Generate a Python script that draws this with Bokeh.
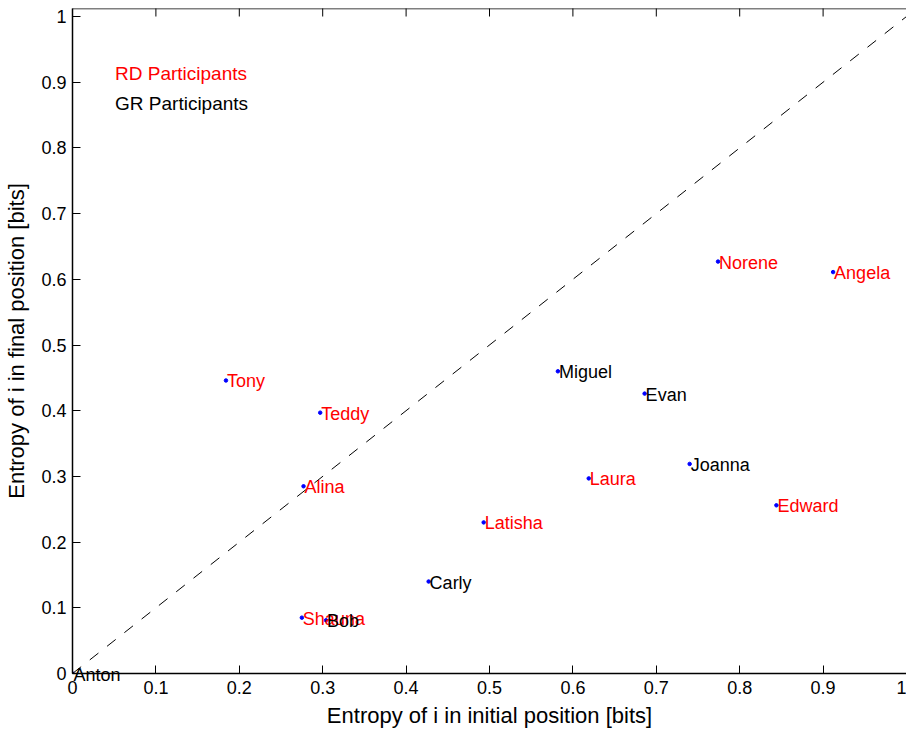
import math
from bokeh.plotting import figure
from bokeh.models import ColumnDataSource, Label, Slope, FixedTicker, Range1d, Span
from bokeh.core.properties import value
from bokeh.embed import file_html
from bokeh.resources import INLINE

names = ["Anton", "Tony", "Teddy", "Alina", "Shauna", "Bob", "Carly", "Latisha",
         "Laura", "Miguel", "Evan", "Joanna", "Edward", "Norene", "Angela"]
x_initial = [0.0, 0.184, 0.297, 0.277, 0.275, 0.304, 0.427, 0.493,
             0.619, 0.582, 0.686, 0.740, 0.844, 0.774, 0.912]
y_final = [0.0, 0.446, 0.397, 0.285, 0.085, 0.081, 0.140, 0.230,
           0.297, 0.460, 0.426, 0.319, 0.256, 0.627, 0.611]
group = ["GR", "RD", "RD", "RD", "RD", "GR", "GR", "RD",
         "RD", "GR", "GR", "GR", "RD", "RD", "RD"]
ticks = [0, 0.1, 0.2, 0.3, 0.4, 0.5, 0.6, 0.7, 0.8, 0.9, 1]
tick_labels = ["0", "0.1", "0.2", "0.3", "0.4", "0.5", "0.6", "0.7", "0.8", "0.9", "1"]
legend_texts = ["RD Participants", "GR Participants"]
legend_groups = ["RD", "GR"]

COLORS = {"RD": "#ff0000", "GR": "#000000"}
FONT = "Liberation Sans"
Y_TOP = 1.0122

src = ColumnDataSource(dict(x=x_initial, y=y_final, name=names,
                            color=[COLORS[g] for g in group]))

p = figure(width=906, height=731, output_backend="svg", toolbar_location=None,
           x_range=Range1d(0, 1.0), y_range=Range1d(0, Y_TOP),
           min_border_left=72, min_border_bottom=58, min_border_top=8, min_border_right=0)
p.outline_line_color = None
p.xgrid.visible = False
p.ygrid.visible = False
p.background_fill_color = "white"
p.border_fill_color = "white"

label_overrides = {t: l for t, l in zip(ticks, tick_labels)}
for ax in (p.xaxis[0], p.yaxis[0]):
    ax.ticker = FixedTicker(ticks=ticks)
    ax.major_label_overrides = label_overrides
    ax.minor_tick_line_color = None
    ax.major_tick_in = 8
    ax.major_tick_out = 0
    ax.axis_line_width = 1.5
    ax.axis_line_color = "black"
    ax.major_tick_line_color = "black"
    ax.major_label_text_font = FONT
    ax.major_label_text_font_size = "18px"
    ax.major_label_text_color = "black"
    ax.axis_label_text_font = FONT
    ax.axis_label_text_font_size = "22px"
    ax.axis_label_text_font_style = "normal"
    ax.axis_label_text_color = "black"

p.xaxis.axis_label = "Entropy of i in initial position [bits]"
p.yaxis.axis_label = "Entropy of i in final position [bits]"
p.xaxis.major_label_standoff = 7
p.yaxis.major_label_standoff = 6
p.xaxis.axis_label_standoff = 6
p.yaxis.axis_label_standoff = 9

# top box line with inward ticks (no labels)
p.add_layout(Span(location=Y_TOP, dimension="width", line_color="black", line_width=1.5))
p.scatter(x=ticks, y=[Y_TOP] * len(ticks), marker="dash", angle=math.pi / 2,
          size=16, line_color="black", line_width=1)

p.add_layout(Slope(gradient=1, y_intercept=0, line_color="black",
                   line_dash="11 11", line_width=1))

p.scatter("x", "y", source=src, size=3.5, color="blue", line_color="blue")
t = p.text("x", "y", text="name", source=src, text_color="color",
           text_font=value(FONT), text_font_size="18px",
           text_align="left", text_baseline="middle", x_offset=1, y_offset=1)
t.level = "overlay"

for txt, g, yy in zip(legend_texts, legend_groups, [0.913, 0.867]):
    p.add_layout(Label(x=0.051, y=yy, text=txt, text_color=COLORS[g],
                       text_font=FONT, text_font_size="19px",
                       text_align="left", text_baseline="middle"))

open("out.html", "w").write(file_html(p, INLINE))
